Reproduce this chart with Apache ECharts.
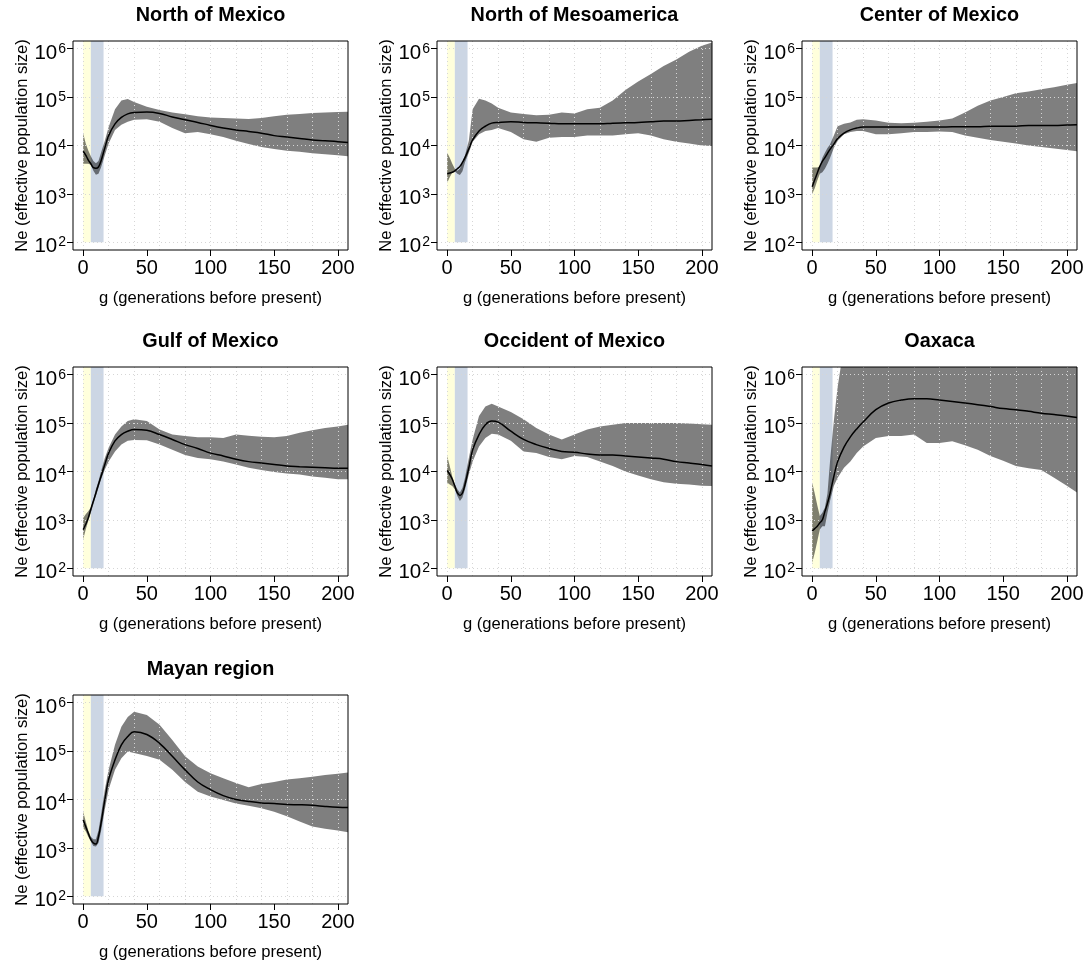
<!DOCTYPE html>
<html>
<head>
<meta charset="utf-8">
<script src="https://cdn.jsdelivr.net/npm/echarts@6/dist/echarts.min.js"></script>
<style>html,body{margin:0;padding:0;background:#fff}#chart{width:1085px;height:966px}</style>
</head>
<body>
<div id="chart"></div>
<script>
// generations before present (x sample positions)
const generations = [0,2,4,6,8,10,12,14,17,20,25,30,35,40,50,60,70,80,90,100,110,120,130,140,150,160,170,180,190,200,208];

// North of Mexico
const northMexicoMean  = [7.6e3,6.3e3,5.0e3,4.2e3,3.5e3,3.4e3,3.6e3,4.8e3,8.9e3,1.6e4,2.8e4,3.8e4,4.5e4,4.8e4,4.9e4,4.6e4,3.9e4,3.4e4,3.0e4,2.6e4,2.3e4,2.1e4,1.95e4,1.8e4,1.6e4,1.5e4,1.4e4,1.3e4,1.26e4,1.2e4,1.15e4];
const northMexicoUpper = [1.8e4,1.1e4,7.9e3,6.0e3,4.8e3,4.3e3,4.8e3,7.1e3,1.26e4,2.4e4,5.6e4,8.5e4,9.1e4,7.9e4,6.3e4,5.4e4,4.8e4,4.4e4,4.0e4,3.8e4,3.7e4,3.6e4,3.55e4,3.7e4,4.0e4,4.3e4,4.5e4,4.7e4,4.8e4,4.9e4,5.0e4];
const northMexicoLower = [4.2e3,4.2e3,4.2e3,4.0e3,3.0e3,2.5e3,2.6e3,3.5e3,6.3e3,1.1e4,2.1e4,2.7e4,3.1e4,3.4e4,3.5e4,3.1e4,2.3e4,1.8e4,1.9e4,1.7e4,1.5e4,1.26e4,1.07e4,9.3e3,8.5e3,7.8e3,7.4e3,6.9e3,6.6e3,6.3e3,6.0e3];

// North of Mesoamerica
const northMesoMean  = [2.6e3,2.7e3,2.8e3,3.0e3,3.3e3,3.7e3,4.5e3,5.6e3,8.5e3,1.3e4,2.0e4,2.5e4,2.9e4,3.0e4,3.1e4,3.0e4,2.95e4,2.9e4,2.8e4,2.8e4,2.8e4,2.8e4,2.9e4,2.95e4,3.0e4,3.1e4,3.2e4,3.2e4,3.3e4,3.4e4,3.5e4];
const northMesoUpper = [7.1e3,5.6e3,4.2e3,3.3e3,3.0e3,3.3e3,4.5e3,6.3e3,1.26e4,5.6e4,9.3e4,8.5e4,7.4e4,6.0e4,4.8e4,4.5e4,4.2e4,4.3e4,4.8e4,4.6e4,5.6e4,6.0e4,8.5e4,1.4e5,2.1e5,3.0e5,4.4e5,6.0e5,8.7e5,1.15e6,1.35e6];
const northMesoLower = [1.7e3,2.2e3,2.75e3,2.95e3,2.6e3,2.45e3,2.95e3,4.5e3,7.1e3,1.2e4,1.7e4,2.0e4,2.1e4,2.3e4,1.9e4,1.35e4,1.2e4,1.45e4,1.5e4,1.5e4,1.6e4,1.6e4,1.6e4,1.7e4,1.8e4,1.6e4,1.35e4,1.2e4,1.1e4,1.0e4,9.8e3];

// Center of Mexico
const centerMexicoMean  = [1.4e3,1.95e3,2.7e3,3.7e3,4.7e3,5.6e3,6.9e3,8.3e3,1.07e4,1.4e4,1.8e4,2.1e4,2.3e4,2.4e4,2.4e4,2.4e4,2.4e4,2.4e4,2.4e4,2.4e4,2.45e4,2.45e4,2.45e4,2.5e4,2.5e4,2.5e4,2.6e4,2.6e4,2.6e4,2.65e4,2.7e4];
const centerMexicoUpper = [3.5e3,3.5e3,3.5e3,3.7e3,5.6e3,7.1e3,8.9e3,1.05e4,1.6e4,2.5e4,2.8e4,3.0e4,3.4e4,3.5e4,3.3e4,2.95e4,2.9e4,2.95e4,3.1e4,3.3e4,3.6e4,4.8e4,6.6e4,8.5e4,1.0e5,1.2e5,1.3e5,1.45e5,1.6e5,1.8e5,1.95e5];
const centerMexicoLower = [1.0e3,1.3e3,1.9e3,2.6e3,2.8e3,3.3e3,4.2e3,5.5e3,8.9e3,1.26e4,1.7e4,1.9e4,2.0e4,2.0e4,1.7e4,1.7e4,1.8e4,1.9e4,1.9e4,1.95e4,1.9e4,1.6e4,1.45e4,1.3e4,1.2e4,1.1e4,1.0e4,9.3e3,8.7e3,8.1e3,7.6e3];

// Gulf of Mexico
const gulfMexicoMean  = [630,810,1.1e3,1.66e3,2.45e3,3.6e3,5.4e3,7.9e3,1.4e4,2.4e4,4.3e4,5.8e4,6.8e4,7.4e4,7.1e4,5.8e4,4.6e4,3.6e4,3.0e4,2.4e4,2.1e4,1.8e4,1.6e4,1.5e4,1.4e4,1.3e4,1.26e4,1.23e4,1.2e4,1.17e4,1.17e4];
const gulfMexicoUpper = [1.1e3,1.3e3,1.5e3,1.8e3,2.6e3,4.3e3,6.3e3,1.0e4,1.9e4,3.1e4,5.8e4,8.5e4,1.1e5,1.2e5,1.1e5,7.4e4,5.8e4,5.4e4,5.1e4,5.1e4,4.9e4,5.8e4,5.5e4,5.2e4,5.1e4,5.4e4,6.3e4,7.1e4,7.9e4,8.5e4,9.3e4];
const gulfMexicoLower = [400,630,955,1.4e3,2.1e3,3.1e3,4.6e3,6.8e3,1.1e4,1.6e4,2.6e4,3.6e4,4.3e4,4.5e4,4.4e4,3.6e4,2.8e4,2.2e4,1.9e4,1.8e4,1.6e4,1.4e4,1.2e4,1.07e4,9.8e3,9.1e3,8.7e3,7.9e3,7.4e3,6.9e3,6.9e3];

// Occident of Mexico
const occidentMean  = [1.05e4,8.7e3,6.9e3,5.0e3,3.6e3,3.2e3,3.6e3,5.4e3,1.2e4,2.8e4,5.8e4,9.3e4,1.1e5,1.05e5,6.8e4,4.6e4,3.6e4,3.0e4,2.6e4,2.5e4,2.3e4,2.2e4,2.2e4,2.1e4,2.0e4,1.9e4,1.8e4,1.6e4,1.5e4,1.4e4,1.3e4];
const occidentUpper = [2.1e4,1.3e4,7.9e3,5.4e3,4.3e3,3.7e3,4.6e3,7.4e3,1.9e4,4.6e4,1.4e5,2.2e5,2.5e5,2.2e5,1.7e5,1.2e5,7.9e4,5.8e4,4.6e4,5.8e4,7.4e4,8.5e4,9.3e4,1.0e5,1.0e5,1.0e5,1.0e5,1.0e5,9.8e4,9.5e4,9.3e4];
const occidentLower = [5.9e3,5.4e3,5.0e3,4.3e3,3.1e3,2.45e3,2.9e3,4.3e3,8.7e3,1.6e4,3.3e4,4.9e4,6.0e4,5.8e4,4.3e4,2.6e4,2.4e4,2.0e4,1.8e4,2.1e4,2.0e4,1.6e4,1.3e4,1.0e4,8.3e3,6.9e3,6.0e3,5.6e3,5.4e3,5.1e3,5.0e3];

// Oaxaca
const oaxacaMean  = [590,660,740,870,1.0e3,1.5e3,2.2e3,3.5e3,7.9e3,1.6e4,3.2e4,5.2e4,7.6e4,1.05e5,1.9e5,2.6e5,3.0e5,3.2e5,3.2e5,3.0e5,2.8e5,2.6e5,2.4e5,2.2e5,2.0e5,1.9e5,1.75e5,1.6e5,1.5e5,1.4e5,1.3e5];
const oaxacaUpper = [5.9e3,3.5e3,2.0e3,1.2e3,1.4e3,1.8e3,3.5e3,1.6e4,1.1e5,5.6e5,4.0e6,1e7,1e7,1e7,1e7,1e7,1e7,1e7,1e7,1e7,1e7,1e7,1e7,1e7,1e7,1e7,1e7,1e7,1e7,1e7,1e7];
const oaxacaLower = [130,210,360,630,740,740,1.4e3,2.45e3,5.0e3,7.4e3,1.2e4,1.6e4,2.4e4,3.3e4,4.9e4,5.4e4,5.4e4,5.8e4,3.9e4,3.9e4,4.2e4,3.5e4,2.8e4,2.1e4,1.66e4,1.3e4,1.17e4,1.07e4,7.4e3,5.1e3,3.7e3];

// Mayan region
const mayanMean  = [3.8e3,2.75e3,2.0e3,1.5e3,1.26e3,1.2e3,1.7e3,3.2e3,9.8e3,2.6e4,6.6e4,1.35e5,2.0e5,2.5e5,2.2e5,1.45e5,7.8e4,4.1e4,2.3e4,1.6e4,1.2e4,1.0e4,9.1e3,8.5e3,8.3e3,7.9e3,7.8e3,7.6e3,7.2e3,6.9e3,6.8e3];
const mayanUpper = [5.6e3,3.5e3,2.3e3,1.7e3,1.5e3,1.5e3,2.3e3,4.8e3,1.6e4,4.1e4,1.35e5,3.2e5,5.1e5,6.5e5,5.6e5,3.5e5,1.7e5,7.8e4,4.8e4,3.5e4,2.75e4,2.2e4,1.8e4,2.1e4,2.3e4,2.6e4,2.75e4,2.95e4,3.2e4,3.4e4,3.6e4];
const mayanLower = [2.6e3,2.2e3,1.7e3,1.35e3,1.1e3,1.07e3,1.26e3,2.2e3,6.2e3,1.6e4,4.1e4,7.1e4,9.8e4,9.1e4,7.9e4,6.6e4,4.1e4,2.3e4,1.45e4,1.15e4,9.8e3,8.3e3,7.4e3,6.6e3,5.6e3,4.5e3,3.5e3,2.75e3,2.5e3,2.3e3,2.1e3];

const panelTitles = ['North of Mexico','North of Mesoamerica','Center of Mexico','Gulf of Mexico','Occident of Mexico','Oaxaca','Mayan region'];
const panelMeans  = [northMexicoMean, northMesoMean, centerMexicoMean, gulfMexicoMean, occidentMean, oaxacaMean, mayanMean];
const panelUppers = [northMexicoUpper, northMesoUpper, centerMexicoUpper, gulfMexicoUpper, occidentUpper, oaxacaUpper, mayanUpper];
const panelLowers = [northMexicoLower, northMesoLower, centerMexicoLower, gulfMexicoLower, occidentLower, oaxacaLower, mayanLower];

// shaded periods (generations)
const periodStart = [0, 6];
const periodEnd   = [6, 16];

// axis ticks / grid lines
const xTickValues = [0, 50, 100, 150, 200];
const yTickValues = [1e2, 1e3, 1e4, 1e5, 1e6];
const xGridValues = [0, 20, 40, 60, 80, 100, 120, 140, 160, 180, 200];

// ---------- layout & style ----------
const FONT = 'Liberation Sans, Arial, Helvetica, sans-serif';
const LEFTS = [73, 437, 802];
const TOPS = [41, 367, 695];
const W = 275, H = 209;
const X_MIN = -8, X_MAX = 208;
const Y_MIN = Math.pow(10, 1.84), Y_MAX = Math.pow(10, 6.16);
const periodColors = ['#FFFFDC', '#CCD6E4'];

const option = {
  animation: false,
  backgroundColor: '#fff',
  textStyle: { fontFamily: FONT, color: '#000' },
  title: [], grid: [], xAxis: [], yAxis: [], series: []
};

panelTitles.forEach((name, i) => {
  const col = i % 3, row = Math.floor(i / 3);
  const left = LEFTS[col], top = TOPS[row];
  const mean = panelMeans[i], upper = panelUppers[i], lower = panelLowers[i];

  option.title.push({
    text: name, left: left + W / 2, top: top - 35, textAlign: 'center', padding: 0,
    textStyle: { fontSize: 19.8, fontWeight: 'bold', color: '#000', fontFamily: FONT }
  });
  option.grid.push({
    left: left, top: top, width: W, height: H, show: true, z: 10,
    borderColor: '#000', borderWidth: 1, backgroundColor: 'transparent',
    containLabel: false, outerBoundsMode: 'none'
  });
  option.xAxis.push({
    gridIndex: i, type: 'value', min: X_MIN, max: X_MAX,
    axisLine: { show: false, onZero: false }, splitLine: { show: false },
    axisTick: { show: true, customValues: xTickValues, length: 6, lineStyle: { color: '#000', width: 1 } },
    axisLabel: { show: true, customValues: xTickValues, color: '#000', fontSize: 20, margin: 8, fontFamily: FONT },
    name: 'g (generations before present)', nameLocation: 'middle', nameGap: 40,
    nameTextStyle: { fontSize: 16.6, color: '#000', fontFamily: FONT }
  });
  option.yAxis.push({
    gridIndex: i, type: 'log', logBase: 10, min: Y_MIN, max: Y_MAX,
    axisLine: { show: false, onZero: false }, splitLine: { show: false }, minorTick: { show: false },
    axisTick: { show: true, customValues: yTickValues, length: 6, lineStyle: { color: '#000', width: 1 } },
    axisLabel: {
      show: true, customValues: yTickValues, margin: 7,
      formatter: v => '{b|10}{s|' + Math.round(Math.log10(v)) + '}',
      rich: {
        b: { fontSize: 20.5, lineHeight: 20, verticalAlign: 'bottom', color: '#000', fontFamily: FONT },
        s: { fontSize: 14, lineHeight: 30, padding: [0, 0, 0, 1], verticalAlign: 'middle', color: '#000', fontFamily: FONT }
      }
    },
    name: 'Ne (effective population size)', nameLocation: 'middle', nameGap: 32, nameRotate: 90,
    nameTextStyle: { fontSize: 16.5, color: '#000', fontFamily: FONT }
  });

  // shaded periods
  option.series.push({
    type: 'custom', xAxisIndex: i, yAxisIndex: i, z: 1, silent: true,
    data: periodStart.map((s, k) => [s, periodEnd[k]]),
    encode: { x: [0, 1] },
    renderItem: (params, api) => {
      const a = api.coord([api.value(0), 100]);
      const b = api.coord([api.value(1), Y_MAX]);
      return { type: 'rect', shape: { x: a[0], y: b[1], width: b[0] - a[0], height: a[1] - b[1] },
               style: { fill: periodColors[params.dataIndex] } };
    }
  });
  // confidence band
  option.series.push({
    type: 'custom', xAxisIndex: i, yAxisIndex: i, z: 2, silent: true,
    data: generations.map((g, k) => [g, lower[k], upper[k]]),
    encode: { x: 0, y: [1, 2] },
    renderItem: (params, api) => {
      if (params.dataIndex !== 0) return null;
      const pts = [];
      for (let k = 0; k < generations.length; k++) pts.push(api.coord([generations[k], upper[k]]));
      for (let k = generations.length - 1; k >= 0; k--) pts.push(api.coord([generations[k], lower[k]]));
      const cs = params.coordSys;
      return { type: 'polygon', shape: { points: pts }, style: { fill: 'rgba(0,0,0,0.5)' },
               clipPath: { type: 'rect', shape: { x: cs.x, y: cs.y, width: cs.width, height: cs.height } } };
    }
  });
  // mean line + dotted grid
  option.series.push({
    type: 'line', xAxisIndex: i, yAxisIndex: i, z: 4, silent: true,
    data: generations.map((g, k) => [g, mean[k]]),
    showSymbol: false, symbol: 'none', smooth: 0.4, clip: true,
    lineStyle: { color: '#000', width: 1.5 },
    markLine: {
      silent: true, symbol: 'none', z: 3, animation: false,
      label: { show: false },
      lineStyle: { color: '#d6d6d6', type: [1, 3], width: 1 },
      emphasis: { disabled: true },
      data: xGridValues.map(v => ({ xAxis: v })).concat(yTickValues.map(v => ({ yAxis: v })))
    }
  });
});

const chart = echarts.init(document.getElementById('chart'), null, { renderer: 'canvas' });
chart.setOption(option);
</script>
</body>
</html>
